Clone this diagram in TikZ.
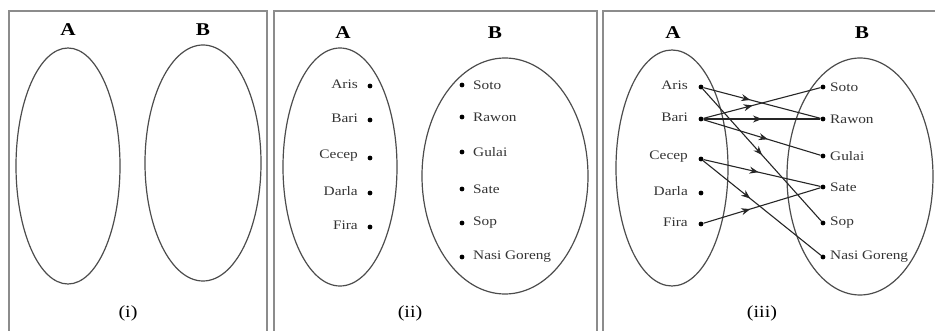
\documentclass[tikz,border=0pt]{standalone}
\usepackage{fontspec}
\setmainfont{Liberation Serif}
\usetikzlibrary{arrows.meta,decorations.markings,positioning}

% horizontally widened text
\newcommand{\widetext}[1]{\scalebox{1.18}[1]{#1}}

\begin{document}
\begin{tikzpicture}[x=1pt,y=-1pt,
  panel/.style={draw=black!45,line width=2.2pt},
  setline/.style={draw=black!70,line width=1.2pt},
  setname/.style={font=\bfseries\fontsize{18}{20}\selectfont,inner sep=0pt},
  caption/.style={font=\fontsize{17}{19}\selectfont,inner sep=0pt},
  lbl/.style={font=\fontsize{13}{15}\selectfont,inner sep=0pt,text=black!80},
  pt/.style={circle,fill=black,inner sep=0pt,minimum size=4.8pt},
  conn/.style={draw=black!85,line width=1.1pt},
  midarrow/.style={conn,postaction={decorate,decoration={markings,
     mark=at position #1 with {\arrow{Stealth[length=9pt,width=7pt]}}}}}
]
\useasboundingbox (0,0) rectangle (935,331);
\clip (0,0) rectangle (935,331);

% panel frames
\draw[panel] (9,11) rectangle (267,345);
\draw[panel] (274,11) rectangle (597,345);
\draw[panel] (603,11) rectangle (960,345);

% ---------- (i) ----------
\node[setname] (n1a) at (68,30) {\widetext{A}};
\node[setname] (n1b) at (203,30) {\widetext{B}};
\draw[setline] (68,166) ellipse [x radius=52pt, y radius=118pt];
\draw[setline] (203,163) ellipse [x radius=58pt, y radius=118pt];
\node[caption] (c1) at (128,313) {\widetext{(i)}};

% ---------- (ii) ----------
\node[setname] (n2a) at (343,33) {\widetext{A}};
\node[setname] (n2b) at (495,33) {\widetext{B}};
\draw[setline] (340,167) ellipse [x radius=57pt, y radius=119pt];
\draw[setline] (505,176) ellipse [x radius=83pt, y radius=118pt];
\node[caption] (c2) at (410,313) {\widetext{(ii)}};

\foreach \nm/\y/\t in {1/86/Aris,2/120/Bari,3/158/Cecep,4/193/Darla,5/227/Fira}{
  \node[pt] (qa\nm) at (370,\y) {};
  \node[lbl,anchor=east] (tqa\nm) at (358,\y-2) {\widetext{\t}};
}
\foreach \nm/\y/\t in {1/85/Soto,2/117/Rawon,3/152/Gulai,4/189/Sate,5/223/Sop,6/257/Nasi Goreng}{
  \node[pt] (qb\nm) at (462,\y) {};
  \node[lbl,anchor=west] (tqb\nm) at (473,\y) {\widetext{\t}};
}

% ---------- (iii) ----------
\node[setname] (n3a) at (673,33) {\widetext{A}};
\node[setname] (n3b) at (862,33) {\widetext{B}};
\draw[setline] (672,168) ellipse [x radius=56pt, y radius=118pt];
\draw[setline] (860,176.5) ellipse [x radius=73pt, y radius=118.5pt];
\node[caption] (c3) at (762,313) {\widetext{(iii)}};

\foreach \nm/\y/\t in {1/87/Aris,2/119/Bari,3/159/Cecep,4/193/Darla,5/224/Fira}{
  \node[pt] (ra\nm) at (701,\y) {};
  \node[lbl,anchor=east] (tra\nm) at (688,\y-2) {\widetext{\t}};
}
\foreach \nm/\y/\t in {1/87/Soto,2/119/Rawon,3/156/Gulai,4/187/Sate,5/223/Sop,6/257/Nasi Goreng}{
  \node[pt] (rb\nm) at (823,\y) {};
  \node[lbl,anchor=west] (trb\nm) at (830,\y) {\widetext{\t}};
}

% mapping arrows
\draw[midarrow=0.40] (ra1) -- (rb2);
\draw[midarrow=0.50] (ra1) -- (rb5);
\draw[midarrow=0.42] (ra2) -- (rb1);
\draw[midarrow=0.50] (ra2) -- (rb2);
\draw[midarrow=0.55] (ra2) -- (rb3);
\draw[midarrow=0.47] (ra3) -- (rb4);
\draw[midarrow=0.40] (ra3) -- (rb6);
\draw[midarrow=0.40] (ra5) -- (rb4);
\end{tikzpicture}
\end{document}
